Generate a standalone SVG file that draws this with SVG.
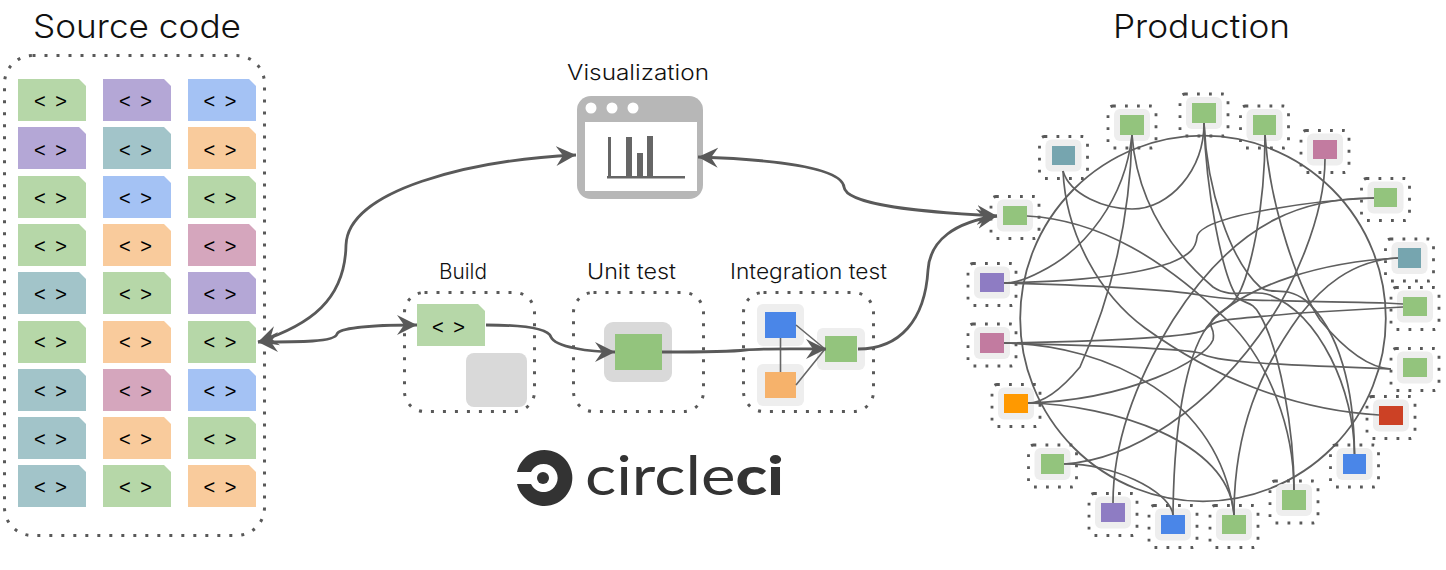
<svg xmlns="http://www.w3.org/2000/svg" width="1446" height="570" viewBox="0 0 1446 570">
<style>
.t{font-family:"Inter","Liberation Sans",sans-serif;fill:#111;font-weight:300}
.h{font-size:33px}.l{font-size:21px}
.k{font-family:"Liberation Sans",sans-serif;font-size:20px;fill:#000;text-anchor:middle}
.dot{fill:none;stroke:#595959;stroke-width:3;stroke-dasharray:3 9}
.ndot{fill:none;stroke:#595959;stroke-width:2.8;stroke-dasharray:2.8 9.2}
.bg{fill:#eee}
.e{fill:none;stroke:#5f5f5f;stroke-width:1.7}
.m{fill:none;stroke:#595959;stroke-width:2.8}
.g{fill:#93c47d}.b{fill:#4a86e8}.v{fill:#8e7cc3}.p{fill:#c27ba0}.c{fill:#76a5af}.o{fill:#ff9900}.r{fill:#cc4125}
.cg{fill:#b6d7a8}.cv{fill:#b4a7d6}.cb{fill:#a4c2f4}.co{fill:#f9cb9c}.ct{fill:#a2c4c9}.cp{fill:#d5a6bd}
</style>
<defs>
<marker id="arr" markerUnits="userSpaceOnUse" viewBox="0 -11 21 22" refX="20" refY="0" markerWidth="21" markerHeight="22" orient="auto-start-reverse">
<path d="M0 -10L20 0L0 10L7 0Z" fill="#595959"/>
</marker>
<path id="card" d="M0 0H61L68 7V42H0Z"/>
<g id="pn"><rect class="ndot" x="-24" y="-19" width="48" height="42" rx="5"/><rect class="bg" x="-18" y="-16" width="36" height="32" rx="6"/></g>
</defs>

<text class="t h" x="33" y="38" textLength="208" lengthAdjust="spacingAndGlyphs">Source code</text>
<text class="t h" x="1113" y="38" textLength="177" lengthAdjust="spacingAndGlyphs">Production</text>

<g id="source-code">
<rect class="dot" x="4.5" y="55.5" width="260" height="480" rx="28"/>
<g id="cards">
<use href="#card" class="cg" x="18" y="79"/><use href="#card" class="cv" x="103" y="79"/><use href="#card" class="cb" x="188" y="79"/>
<use href="#card" class="cv" x="18" y="127"/><use href="#card" class="ct" x="103" y="127"/><use href="#card" class="co" x="188" y="127"/>
<use href="#card" class="cg" x="18" y="176"/><use href="#card" class="cb" x="103" y="176"/><use href="#card" class="cg" x="188" y="176"/>
<use href="#card" class="cg" x="18" y="224"/><use href="#card" class="co" x="103" y="224"/><use href="#card" class="cp" x="188" y="224"/>
<use href="#card" class="ct" x="18" y="272"/><use href="#card" class="cg" x="103" y="272"/><use href="#card" class="cv" x="188" y="272"/>
<use href="#card" class="cg" x="18" y="321"/><use href="#card" class="co" x="103" y="321"/><use href="#card" class="cg" x="188" y="321"/>
<use href="#card" class="ct" x="18" y="369"/><use href="#card" class="cp" x="103" y="369"/><use href="#card" class="cb" x="188" y="369"/>
<use href="#card" class="ct" x="18" y="417"/><use href="#card" class="co" x="103" y="417"/><use href="#card" class="cg" x="188" y="417"/>
<use href="#card" class="ct" x="18" y="465"/><use href="#card" class="cg" x="103" y="465"/><use href="#card" class="co" x="188" y="465"/>
</g>
<g id="card-labels">
<text class="k" x="50.5" y="108" textLength="33">&lt; &gt;</text><text class="k" x="135.500" y="108" textLength="33">&lt; &gt;</text><text class="k" x="220" y="108" textLength="33">&lt; &gt;</text>
<text class="k" x="50.5" y="157" textLength="33">&lt; &gt;</text><text class="k" x="135.500" y="157" textLength="33">&lt; &gt;</text><text class="k" x="220" y="157" textLength="33">&lt; &gt;</text>
<text class="k" x="50.5" y="205" textLength="33">&lt; &gt;</text><text class="k" x="135.500" y="205" textLength="33">&lt; &gt;</text><text class="k" x="220" y="205" textLength="33">&lt; &gt;</text>
<text class="k" x="50.5" y="253" textLength="33">&lt; &gt;</text><text class="k" x="135.500" y="253" textLength="33">&lt; &gt;</text><text class="k" x="220" y="253" textLength="33">&lt; &gt;</text>
<text class="k" x="50.5" y="301" textLength="33">&lt; &gt;</text><text class="k" x="135.500" y="301" textLength="33">&lt; &gt;</text><text class="k" x="220" y="301" textLength="33">&lt; &gt;</text>
<text class="k" x="50.5" y="349" textLength="33">&lt; &gt;</text><text class="k" x="135.500" y="349" textLength="33">&lt; &gt;</text><text class="k" x="220" y="349" textLength="33">&lt; &gt;</text>
<text class="k" x="50.5" y="398" textLength="33">&lt; &gt;</text><text class="k" x="135.500" y="398" textLength="33">&lt; &gt;</text><text class="k" x="220" y="398" textLength="33">&lt; &gt;</text>
<text class="k" x="50.5" y="446" textLength="33">&lt; &gt;</text><text class="k" x="135.500" y="446" textLength="33">&lt; &gt;</text><text class="k" x="220" y="446" textLength="33">&lt; &gt;</text>
<text class="k" x="50.5" y="494" textLength="33">&lt; &gt;</text><text class="k" x="135.500" y="494" textLength="33">&lt; &gt;</text><text class="k" x="220" y="494" textLength="33">&lt; &gt;</text>
</g>
</g>

<g id="visualization">
<text class="t l" x="567" y="80" textLength="142" lengthAdjust="spacingAndGlyphs">Visualization</text>
<rect x="577" y="96" width="126" height="103" rx="14" fill="#b7b7b7"/>
<rect x="585" y="122" width="112" height="69" fill="#fff"/>
<circle cx="591" cy="108" r="5.5" fill="#fff"/><circle cx="612" cy="108" r="5.5" fill="#fff"/><circle cx="633" cy="108" r="5.5" fill="#fff"/>
<g fill="#666"><rect x="608" y="137" width="3" height="41"/><rect x="626" y="137" width="6" height="40"/><rect x="637" y="153" width="6" height="24"/><rect x="647" y="136" width="6" height="41"/><rect x="607" y="176" width="78" height="2.5"/></g>
</g>

<g id="build">
<text class="t l" x="439" y="279" textLength="48" lengthAdjust="spacingAndGlyphs">Build</text>
<rect class="dot" x="404.500" y="292.500" width="130" height="119" rx="20"/>
<use href="#card" class="cg" x="417" y="304"/>
<text class="k" x="448.500" y="334" textLength="33">&lt; &gt;</text>
<rect x="466" y="353" width="61" height="54" rx="8" fill="#d9d9d9"/>
</g>
<g id="unit-test">
<text class="t l" x="587" y="279" textLength="89" lengthAdjust="spacingAndGlyphs">Unit test</text>
<rect class="dot" x="573.500" y="292.500" width="130" height="119" rx="20"/>
<rect x="604" y="322" width="68" height="60" rx="9" fill="#d9d9d9"/>
<rect x="615" y="334" width="47" height="36" class="g"/>
</g>
<g id="integration-test">
<text class="t l" x="730" y="279" textLength="157" lengthAdjust="spacingAndGlyphs">Integration test</text>
<rect class="dot" x="743.500" y="292.500" width="130" height="119" rx="20"/>
<rect x="757" y="304" width="47" height="42" rx="6" class="bg"/><rect x="757" y="364" width="47" height="42" rx="6" class="bg"/><rect x="817" y="328" width="48" height="42" rx="6" class="bg"/>
<rect x="765" y="312" width="31" height="26" class="b"/><rect x="765" y="372" width="31" height="26" fill="#f6b26b"/><rect x="825" y="336" width="32" height="26" class="g"/>
<path d="M796 325L825 349M796 385L825 349M780.500 338V372" fill="none" stroke="#666" stroke-width="1.600"/>
</g>

<g id="logo">
<path fill-rule="evenodd" fill="#333" d="M517 472A28 28 0 1 1 517 484H531A14 14 0 1 0 531 472Z"/>
<circle cx="543" cy="478" r="6" fill="#333"/>
<text x="585" y="495" textLength="199" lengthAdjust="spacingAndGlyphs" font-family="Lato,'Open Sans',sans-serif" font-size="54" fill="#333"><tspan font-weight="400">circle</tspan><tspan font-weight="900">ci</tspan></text>
</g>

<g id="production">
<circle cx="1203" cy="318.500" r="182.800" fill="none" stroke="#5f5f5f" stroke-width="1.800"/>
<g id="n1"><use href="#pn" x="1015" y="215.500"/><rect x="1003" y="206" width="24" height="19" class="g"/></g>
<g id="n2"><use href="#pn" x="992" y="282.500"/><rect x="980" y="273" width="24" height="19" class="v"/></g>
<g id="n3"><use href="#pn" x="1063.500" y="155.500"/><rect x="1052" y="146" width="23" height="19" class="c"/></g>
<g id="n4"><use href="#pn" x="1132" y="125"/><rect x="1120" y="115" width="24" height="20" class="g"/></g>
<g id="n5"><use href="#pn" x="1204" y="113"/><rect x="1192" y="103" width="24" height="20" class="g"/></g>
<g id="n6"><use href="#pn" x="1264.500" y="125"/><rect x="1253" y="115" width="23" height="20" class="g"/></g>
<g id="n7"><use href="#pn" x="1325" y="149.500"/><rect x="1313" y="140" width="24" height="19" class="p"/></g>
<g id="n8"><use href="#pn" x="1385.500" y="197.500"/><rect x="1374" y="188" width="23" height="19" class="g"/></g>
<g id="n9"><use href="#pn" x="1409.500" y="258"/><rect x="1398" y="248" width="23" height="20" class="c"/></g>
<g id="n10"><use href="#pn" x="1415" y="306.500"/><rect x="1403" y="297" width="24" height="19" class="g"/></g>
<g id="n11"><use href="#pn" x="1415" y="367.500"/><rect x="1403" y="358" width="24" height="19" class="g"/></g>
<g id="n12"><use href="#pn" x="1391" y="415.500"/><rect x="1379" y="406" width="24" height="19" class="r"/></g>
<g id="n13"><use href="#pn" x="1354.500" y="464"/><rect x="1343" y="454" width="23" height="20" class="b"/></g>
<g id="n14"><use href="#pn" x="1294" y="500"/><rect x="1282" y="490" width="24" height="20" class="g"/></g>
<g id="n15"><use href="#pn" x="1234" y="524.500"/><rect x="1222" y="515" width="24" height="19" class="g"/></g>
<g id="n16"><use href="#pn" x="1173" y="524.500"/><rect x="1161" y="515" width="24" height="19" class="b"/></g>
<g id="n17"><use href="#pn" x="1113" y="512.500"/><rect x="1101" y="503" width="24" height="19" class="v"/></g>
<g id="n18"><use href="#pn" x="1052.500" y="464"/><rect x="1041" y="454" width="23" height="20" class="g"/></g>
<g id="n19"><use href="#pn" x="1016" y="403.500"/><rect x="1004" y="394" width="24" height="19" class="o"/></g>
<g id="n20"><use href="#pn" x="992" y="343"/><rect x="980" y="333" width="24" height="20" class="p"/></g>
</g>

<g id="connectors">
<g id="pipeline">
<path class="m" marker-start="url(#arr)" marker-end="url(#arr)" d="M258 342C310 325 345 300 346 245C348 190 470 160 576 155"/>
<path class="m" marker-start="url(#arr)" marker-end="url(#arr)" d="M258 342C300 342 335 342 337 334C340 326 390 325 417 325"/>
<path class="m" marker-end="url(#arr)" d="M486 325C520 325 548 328 551 337C555 347 590 352 615 352"/>
<path class="m" marker-end="url(#arr)" d="M662 352C700 352 730 352 745 350C770 348 800 349 826 349"/>
<path class="m" marker-end="url(#arr)" d="M858 349C900 349 925 320 928 270C930 240 955 222 997 216"/>
<path class="m" marker-start="url(#arr)" marker-end="url(#arr)" d="M698 157C790 160 842 170 844 187C846 205 920 212 997 216"/>
</g>
<g id="mesh">
<path class="e" d="M1063 171C1070 195 1105 209 1132 209C1170 209 1204 170 1204 123"/>
<path class="e" d="M1063 171C1066 235 1100 295 1145 328C1210 375 1290 410 1379 415"/>
<path class="e" d="M1027 216C1100 220 1165 260 1227 320C1270 362 1294 430 1294 490"/>
<path class="e" d="M1132 135C1125 200 1085 250 1040 272C1025 280 1015 283 1004 283"/>
<path class="e" d="M1132 135C1130 220 1110 300 1080 367C1065 385 1045 403 1028 403"/>
<path class="e" d="M1132 135C1137 200 1170 250 1213 287C1232 300 1250 288 1270 295C1320 315 1354 390 1354.500 454"/>
<path class="e" d="M1204 123C1206 190 1222 275 1237 297C1245 305 1252 300 1260 315C1280 350 1294 430 1294 490"/>
<path class="e" d="M1204 123C1207 190 1230 260 1260 287C1272 296 1285 285 1305 300C1340 330 1354 390 1354.500 454"/>
<path class="e" d="M1265 135C1265 210 1250 275 1237 297C1230 310 1215 312 1211 322C1190 345 1174 410 1173 515"/>
<path class="e" d="M1265 135C1270 210 1300 290 1320 320C1345 350 1370 368 1391 369"/>
<path class="e" d="M1325 159C1325 220 1290 290 1270 320C1210 410 1130 460 1064 464"/>
<path class="e" d="M1374 198C1310 198 1240 215 1173 320C1130 390 1113 450 1113 503"/>
<path class="e" d="M1374 198C1320 200 1200 215 1197 237C1196 248 1190 255 1170 263C1120 280 1040 282 1004 283"/>
<path class="e" d="M1398 258C1320 262 1250 285 1215 318C1205 328 1216 325 1213 340C1205 360 1130 400 1028 403"/>
<path class="e" d="M1398 258C1350 260 1320 290 1300 315C1260 370 1234 430 1234 515"/>
<path class="e" d="M1004 343C1110 345 1220 400 1234 515"/>
<path class="e" d="M1028 403C1110 405 1230 440 1234 515"/>
<path class="e" d="M1004 283C1080 285 1160 288 1200 295C1225 300 1240 300 1385 303L1403 304"/>
<path class="e" d="M1004 343C1080 342 1190 338 1205 330C1215 318 1225 320 1300 313L1403 307"/>
<path class="e" d="M1004 343C1060 345 1180 347 1200 353C1215 362 1260 364 1391 369"/>
<path class="e" d="M1064 464C1110 463 1170 490 1173 515"/>
</g>
</g>
</svg>
